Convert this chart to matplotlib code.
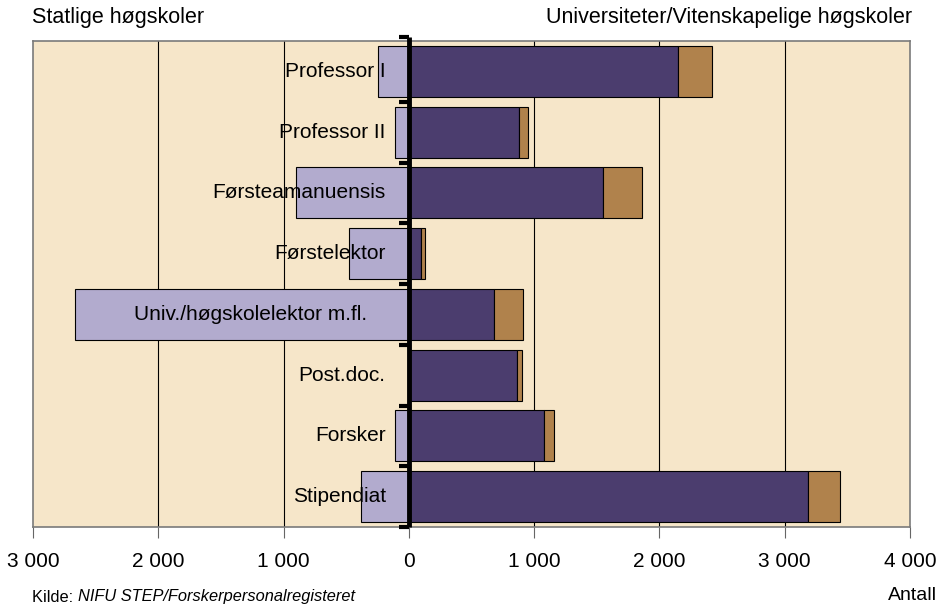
import matplotlib.pyplot as plt
import numpy as np

plt.rcParams["font.family"] = ["Liberation Sans", "DejaVu Sans"]

# %%
# Data (antall personer per stillingskategori)
categories = [
    "Professor I", "Professor II", "Førsteamanuensis", "Førstelektor",
    "Univ./høgskolelektor m.fl.", "Post.doc.", "Forsker", "Stipendiat",
]
statlige = [245, 109, 899, 479, 2666, 0, 112, 385]
universiteter = [2152, 878, 1546, 98, 683, 864, 1080, 3189]
vitenskapelige = [271, 69, 314, 32, 225, 38, 80, 252]

xticks = [-3000, -2000, -1000, 0, 1000, 2000, 3000, 4000]
xticklabels = ["3 000", "2 000", "1 000", "0", "1 000", "2 000", "3 000", "4 000"]

# %%
c_bg = "#F6E6C9"
c_light = "#B2ABCE"
c_dark = "#4B3D6E"
c_brown = "#B0824C"

fig = plt.figure(figsize=(9.42, 6.08), dpi=100)
ax = fig.add_axes([33 / 942, 1 - 527 / 608, 877 / 942, 486 / 608])
ax.set_facecolor(c_bg)

y = np.arange(len(categories))[::-1]
h = 0.84
ax.barh(y, -np.array(statlige), height=h, color=c_light, edgecolor="black", lw=0.8, zorder=3)
ax.barh(y, universiteter, height=h, color=c_dark, edgecolor="black", lw=0.8, zorder=3)
ax.barh(y, vitenskapelige, left=universiteter, height=h, color=c_brown,
        edgecolor="black", lw=0.8, zorder=3)

for yi, name in zip(y, categories):
    xpos = -335 if name.startswith("Univ") else -185
    ax.text(xpos, yi, name, ha="right", va="center", fontsize=15, zorder=5)

ax.set_xlim(-3000, 4000)
ax.set_ylim(-0.5, len(categories) - 0.5)
for gx in [-2000, -1000, 1000, 2000, 3000]:
    ax.axvline(gx, color="black", lw=0.8, zorder=1)

# thick zero axis with small ticks at category boundaries
ax.plot([0, 0], [-0.5, len(categories) - 0.5 + 0.07], color="black", lw=3.5,
        zorder=6, clip_on=False, solid_capstyle="butt")
for b in np.arange(len(categories) + 1) - 0.5:
    yb = b + 0.07 if b > len(categories) - 1 else b
    ax.plot([-80, 0], [yb, yb], color="black", lw=3, zorder=6, clip_on=False,
            solid_capstyle="butt")

ax.set_xticks(xticks)
ax.set_xticklabels(xticklabels, fontsize=15)
ax.set_yticks([])
ax.tick_params(axis="x", length=8, color="#666666", pad=10)
for s in ax.spines.values():
    s.set_color("#7a7a7a")
    s.set_linewidth(1.2)

fig.text(32 / 942, 1 - 18 / 608, "Statlige høgskoler", fontsize=15.5, va="center")
fig.text(912 / 942, 1 - 18 / 608, "Universiteter/Vitenskapelige høgskoler",
         fontsize=15.5, va="center", ha="right")
fig.text(32 / 942, 1 - 597 / 608, "Kilde: ", fontsize=11.8, va="center")
fig.text(78 / 942, 1 - 597 / 608, "NIFU STEP/Forskerpersonalregisteret",
         fontsize=11.8, va="center", style="italic")
fig.text(937 / 942, 1 - 596 / 608, "Antall", fontsize=14, va="center", ha="right")

fig.savefig("out.png", dpi=100)
